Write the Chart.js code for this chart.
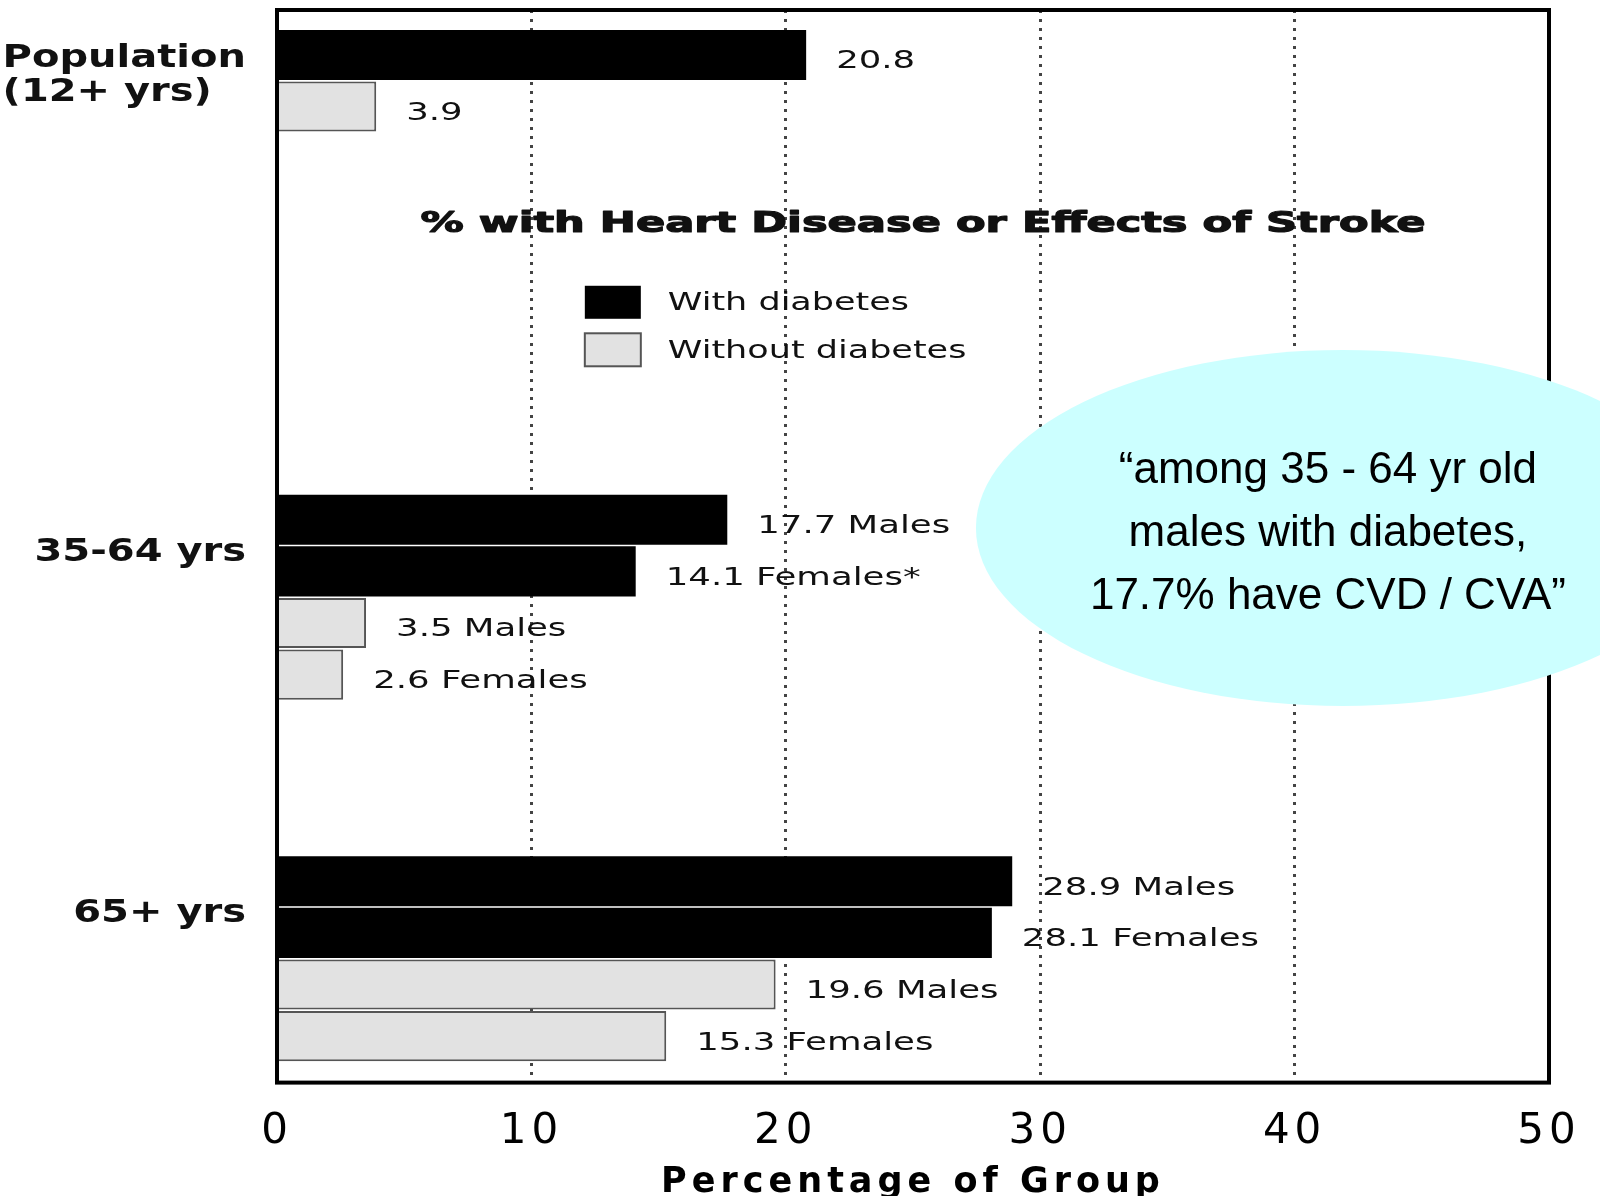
<!DOCTYPE html>
<html>
<head>
<meta charset="utf-8">
<title>Heart disease or stroke, with and without diabetes</title>
<script src="https://cdn.jsdelivr.net/npm/chart.js@4.4.1/dist/chart.umd.min.js"></script>
<style>
  body { margin: 0; background: #fff; }
  #chart { display: block; }
</style>
</head>
<body>
<canvas id="chart" width="1600" height="1196"></canvas>
<script>
// one entry per bar slot down the y axis, '' is an empty spacer slot
const rowGroups = ['pop', 'pop', '', '', '', '', '', '', '', 'mid', 'mid', 'mid', 'mid', '', '', '', 'old', 'old', 'old', 'old'];
const groupLabels = { pop: ['Population', '(12+ yrs)'], mid: ['35-64 yrs'], old: ['65+ yrs'] };

const withDiabetes = [20.8, null, null, null, null, null, null, null, null, 17.7, 14.1, null, null, null, null, null, 28.9, 28.1, null, null];
const withoutDiabetes = [null, 3.9, null, null, null, null, null, null, null, null, null, 3.5, 2.6, null, null, null, null, null, 19.6, 15.3];
const barLabels = ['20.8', '3.9', '', '', '', '', '', '', '', '17.7 Males', '14.1 Females*', '3.5 Males', '2.6 Females', '', '', '', '28.9 Males', '28.1 Females', '19.6 Males', '15.3 Females'];

const xTicks = [0, 10, 20, 30, 40, 50];
const seriesNames = ['With diabetes', 'Without diabetes'];
const chartTitle = '% with Heart Disease or Effects of Stroke';
const xTitle = 'Percentage of Group';
const calloutLines = ['\u201Camong 35 - 64 yr old', 'males with diabetes,', '17.7% have CVD / CVA\u201D'];

function toPoints(values) {
  let pts = [];
  for (let i = 0; i < values.length; i++) {
    if (values[i] !== null) pts.push({ x: values[i], y: i });
  }
  return pts;
}

// the original slide text is drawn wide, so stretch it sideways
function wideText(ctx, str, x, y, font, stretch, align, heavy) {
  ctx.save();
  ctx.font = font;
  ctx.letterSpacing = '0px';
  ctx.textBaseline = 'middle';
  ctx.textAlign = 'left';
  ctx.fillStyle = '#111';
  let w = ctx.measureText(str).width * stretch;
  if (align === 'right') x -= w;
  if (align === 'center') x -= w / 2;
  ctx.translate(x, y);
  ctx.scale(stretch, 1);
  ctx.fillText(str, 0, 0);
  if (heavy) {
    ctx.strokeStyle = '#111';
    ctx.lineWidth = heavy;
    ctx.lineJoin = 'round';
    ctx.strokeText(str, 0, 0);
  }
  ctx.restore();
  return w;
}

function textWidth(ctx, str, font, stretch) {
  ctx.save();
  ctx.font = font;
  ctx.letterSpacing = '0px';
  let w = ctx.measureText(str).width * stretch;
  ctx.restore();
  return w;
}

const labelFont = '25px "DejaVu Sans"';
const groupFont = 'bold 32px "DejaVu Sans"';

const slideDecor = {
  id: 'slideDecor',
  beforeDraw(chart) {
    const ctx = chart.ctx;
    ctx.save();
    ctx.fillStyle = '#fff';
    ctx.fillRect(0, 0, chart.width, chart.height);
    ctx.restore();
    // tick labels and axis title are spaced out in the original
    ctx.letterSpacing = '5px';
  },
  beforeDatasetsDraw(chart) {
    chart.ctx.letterSpacing = '0px';
  },
  afterDatasetsDraw(chart) {
    const ctx = chart.ctx;
    const xs = chart.scales.x;
    const ys = chart.scales.y;
    const area = chart.chartArea;

    // value labels after each bar
    [withDiabetes, withoutDiabetes].forEach(function (vals) {
      for (let i = 0; i < vals.length; i++) {
        if (vals[i] === null) continue;
        wideText(ctx, barLabels[i], xs.getPixelForValue(vals[i]) + 30, ys.getPixelForValue(i) + 7, labelFont, 1.42, 'left');
      }
    });

    // group labels left of the frame
    Object.keys(groupLabels).forEach(function (key) {
      let first = rowGroups.indexOf(key);
      let lines = groupLabels[key];
      let mid = (ys.getPixelForValue(first) + ys.getPixelForValue(first + 1)) / 2 + 7 + (lines.length - 1) * 5;
      let widest = 0;
      lines.forEach(function (l) { widest = Math.max(widest, textWidth(ctx, l, groupFont, 1.25)); });
      let left = area.left - 31 - widest;
      for (let j = 0; j < lines.length; j++) {
        let y = mid - (lines.length - 1 - j) * 34;
        wideText(ctx, lines[j], left, y, groupFont, 1.25, 'left');
      }
    });

    // chart title inside the plot
    let tFont = 'bold 29px "DejaVu Sans"';
    let tStretch = 1005 / textWidth(ctx, chartTitle, tFont, 1);
    wideText(ctx, chartTitle, (area.left + area.right) / 2 + 10, ys.getPixelForValue(3.28), tFont, tStretch, 'center', 1.2);

    // legend
    let lx = xs.getPixelForValue(12.1);
    chart.data.datasets.forEach(function (ds, i) {
      let cy = ys.getPixelForValue(4.78 + i * 0.92);
      ctx.save();
      ctx.fillStyle = ds.backgroundColor;
      ctx.fillRect(lx, cy - 16, 56, 33);
      if (ds.borderWidth) {
        ctx.strokeStyle = ds.borderColor;
        ctx.lineWidth = ds.borderWidth;
        ctx.strokeRect(lx, cy - 16, 56, 33);
      }
      ctx.restore();
      wideText(ctx, ds.label, lx + 83, cy + 2, labelFont, 1.4, 'left');
    });

    // frame round the plot
    ctx.save();
    ctx.strokeStyle = '#000';
    ctx.lineWidth = 4;
    ctx.strokeRect(area.left, area.top, area.right - area.left, area.bottom - area.top);
    ctx.restore();
  },
  afterDraw(chart) {
    const ctx = chart.ctx;
    const xs = chart.scales.x;
    const ys = chart.scales.y;
    let cx = xs.getPixelForValue(41.9);
    let cy = ys.getPixelForValue(9.16);
    ctx.save();
    ctx.letterSpacing = '0px';
    ctx.beginPath();
    ctx.ellipse(cx, cy, 367, 178, 0, 0, Math.PI * 2);
    ctx.fillStyle = '#ccffff';
    ctx.fill();
    ctx.fillStyle = '#000';
    ctx.font = '44px "Liberation Sans"';
    ctx.textAlign = 'center';
    ctx.textBaseline = 'middle';
    for (let i = 0; i < calloutLines.length; i++) {
      ctx.fillText(calloutLines[i], cx - 15, cy - 57 + i * 63);
    }
    ctx.restore();
  }
};

const chart = new Chart(document.getElementById('chart'), {
  type: 'bar',
  data: {
    datasets: [
      {
        label: seriesNames[0],
        data: toPoints(withDiabetes),
        backgroundColor: '#000000',
        borderWidth: 0,
        grouped: false,
        categoryPercentage: 1,
        barPercentage: 0.97
      },
      {
        label: seriesNames[1],
        data: toPoints(withoutDiabetes),
        backgroundColor: '#e2e2e2',
        borderColor: '#555555',
        borderWidth: 2,
        grouped: false,
        categoryPercentage: 1,
        barPercentage: 0.97
      }
    ]
  },
  options: {
    indexAxis: 'y',
    responsive: false,
    animation: false,
    devicePixelRatio: 1,
    layout: { padding: { left: 277, right: 51, top: 10, bottom: 0 } },
    plugins: {
      legend: { display: false },
      tooltip: { enabled: false }
    },
    scales: {
      x: {
        type: 'linear',
        min: 0,
        max: 50,
        afterBuildTicks: function (axis) {
          axis.ticks = xTicks.map(function (v) { return { value: v }; });
        },
        ticks: {
          color: '#000',
          font: { family: 'DejaVu Sans', size: 42 },
          padding: 24
        },
        grid: {
          drawTicks: false,
          lineWidth: 3,
          color: function (c) {
            if (c.tick && (c.tick.value === 0 || c.tick.value === 50)) return 'rgba(0,0,0,0)';
            return '#444';
          }
        },
        border: { display: false, dash: [3, 6] },
        title: {
          display: true,
          text: xTitle,
          color: '#000',
          font: { family: 'DejaVu Sans', size: 35, weight: 'bold' },
          padding: { top: -19, bottom: -8 }
        }
      },
      y: {
        type: 'linear',
        display: false,
        offset: false,
        reverse: true,
        min: -0.87,
        max: 19.9,
        afterBuildTicks: function (axis) {
          axis.ticks = rowGroups.map(function (g, i) { return { value: i }; });
        }
      }
    }
  },
  plugins: [slideDecor]
});
</script>
</body>
</html>
